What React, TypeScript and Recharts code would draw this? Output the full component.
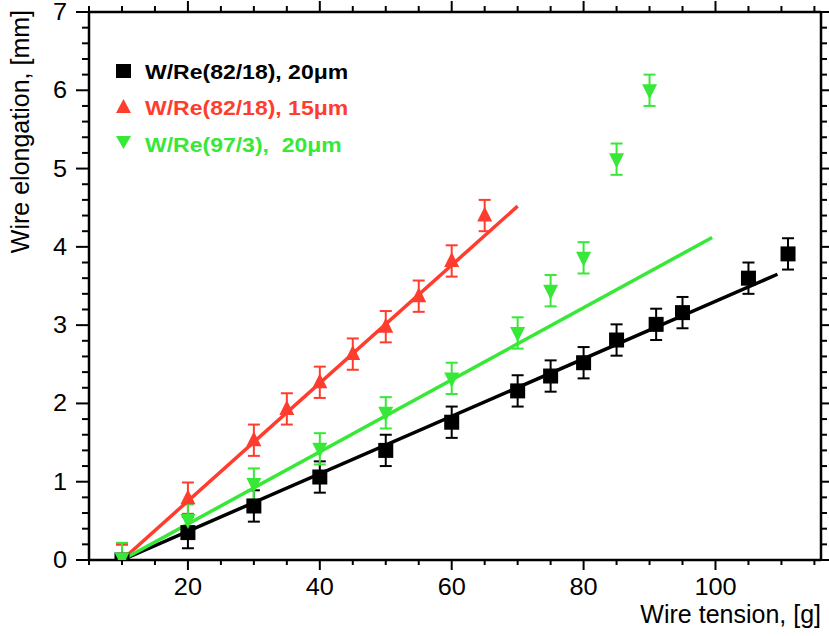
import React from 'react';
import { ComposedChart, Scatter, XAxis, YAxis, ErrorBar } from 'recharts';

const FONT = '"Liberation Sans", Arial, Helvetica, sans-serif';
const BLACK = '#000000';
const RED = '#ff3d2e';
const GREEN = '#38e838';

// Measured data: wire tension [g] vs wire elongation [mm]
const tensionBlack = [10, 20, 30, 40, 50, 60, 70, 75, 80, 85, 91, 95, 105, 111];
const elongBlack = [0, 0.35, 0.69, 1.06, 1.4, 1.76, 2.16, 2.35, 2.52, 2.81, 3.01, 3.16, 3.6, 3.91];
const tensionRed = [10, 20, 30, 35, 40, 45, 50, 55, 60, 65];
const elongRed = [0, 0.79, 1.53, 1.93, 2.27, 2.63, 2.98, 3.37, 3.82, 4.4];
const tensionGreen = [10, 20, 30, 40, 50, 60, 70, 75, 80, 85, 90];
const elongGreen = [0.02, 0.51, 0.97, 1.42, 1.88, 2.32, 2.9, 3.44, 3.86, 5.12, 6.0];
const errorMm = 0.2;

// Linear fits (endpoints)
const fitBlackX = [10, 109.4];
const fitBlackY = [0, 3.65];
const fitRedX = [10, 70];
const fitRedY = [0, 4.52];
const fitGreenX = [10, 99.5];
const fitGreenY = [0, 4.12];

// Axis ticks
const xTicks = [5, 10, 15, 20, 25, 30, 35, 40, 45, 50, 55, 60, 65, 70, 75, 80, 85, 90, 95, 100, 105, 110, 115];
const xMajor = [20, 40, 60, 80, 100];
const yTicks = [0, 0.2, 0.4, 0.6, 0.8, 1, 1.2, 1.4, 1.6, 1.8, 2, 2.2, 2.4, 2.6, 2.8, 3, 3.2, 3.4, 3.6, 3.8, 4, 4.2, 4.4, 4.6, 4.8, 5, 5.2, 5.4, 5.6, 5.8, 6, 6.2, 6.4, 6.6, 6.8, 7];
const yMajor = [0, 1, 2, 3, 4, 5, 6, 7];

const legendLabels = ['W/Re(82/18), 20\u03bcm', 'W/Re(82/18), 15\u03bcm', 'W/Re(97/3),  20\u03bcm'];

// error bars are clipped at the frame bottom (y = 0)
const pts = (xs: number[], ys: number[]) =>
  xs.map((x, i) => ({ x, y: ys[i], err: ys[i] - errorMm < 0 ? [ys[i], errorMm] : errorMm }));
const line = (xs: number[], ys: number[]) => xs.map((x, i) => ({ x, y: ys[i] }));

const blackData = pts(tensionBlack, elongBlack);
const redData = pts(tensionRed, elongRed);
const greenData = pts(tensionGreen, elongGreen);

const isMajorX = (v: number) => xMajor.some((m) => Math.abs(m - v) < 1e-6);
const isMajorY = (v: number) => yMajor.some((m) => Math.abs(m - v) < 1e-6);

const BottomTick = (p: any) => {
  const v = p.payload.value;
  const major = isMajorX(v);
  return (
    <g>
      <line x1={p.x} x2={p.x} y1={p.y} y2={p.y + (major ? 10 : 5)} stroke={BLACK} strokeWidth={2} />
      {major && (
        <text
          x={0}
          y={0}
          transform={`translate(${p.x},${p.y + 35}) scale(1.1,1)`}
          textAnchor="middle"
          fontSize={23}
          fontFamily={FONT}
          fill={BLACK}
        >
          {v}
        </text>
      )}
    </g>
  );
};

const TopTick = (p: any) => {
  const v = p.payload.value;
  const major = isMajorX(v);
  return <line x1={p.x} x2={p.x} y1={p.y} y2={p.y - (major ? 11 : 6)} stroke={BLACK} strokeWidth={2} />;
};

const LeftTick = (p: any) => {
  const v = p.payload.value;
  const major = isMajorY(v);
  return (
    <g>
      <line x1={p.x} x2={p.x - (major ? 13 : 7)} y1={p.y} y2={p.y} stroke={BLACK} strokeWidth={2} />
      {major && (
        <text
          x={0}
          y={0}
          transform={`translate(${p.x - 22},${p.y + 8}) scale(1.1,1)`}
          textAnchor="end"
          fontSize={23}
          fontFamily={FONT}
          fill={BLACK}
        >
          {Math.round(v)}
        </text>
      )}
    </g>
  );
};

const RightTick = (p: any) => {
  const v = p.payload.value;
  const major = isMajorY(v);
  return <line x1={p.x} x2={p.x + (major ? 10 : 6)} y1={p.y} y2={p.y} stroke={BLACK} strokeWidth={2} />;
};

const Square = (p: any) => <rect x={p.cx - 7.5} y={p.cy - 7.5} width={15} height={15} fill={BLACK} />;
const TriUp = (p: any) => (
  <polygon points={`${p.cx},${p.cy - 9} ${p.cx - 7.5},${p.cy + 6} ${p.cx + 7.5},${p.cy + 6}`} fill={RED} />
);
const TriDown = (p: any) => (
  <polygon points={`${p.cx},${p.cy + 9} ${p.cx - 7.5},${p.cy - 6} ${p.cx + 7.5},${p.cy - 6}`} fill={GREEN} />
);
const NoShape = () => <g />;

const LegendText = ({ x, y, color, label }: { x: number; y: number; color: string; label: string }) => (
  <text
    x={0}
    y={0}
    transform={`translate(${x},${y}) scale(1.15,1)`}
    fontSize={20}
    fontWeight="bold"
    fontFamily={FONT}
    fill={color}
    style={{ whiteSpace: 'pre' }}
  >
    {label}
  </text>
);

export default function App() {
  const W = 829;
  const H = 636;
  return (
    <div style={{ position: 'absolute', left: 0, top: 0, width: W, height: H, background: '#fff' }}>
      <ComposedChart width={W} height={H} margin={{ top: 0, right: 0, bottom: 0, left: 0 }}>
        <XAxis
          xAxisId="bottom"
          orientation="bottom"
          type="number"
          dataKey="x"
          domain={[5, 116]}
          allowDataOverflow
          ticks={xTicks}
          interval={0}
          height={76}
          tickSize={0}
          tickMargin={0}
          tickLine={false}
          tick={<BottomTick />}
          axisLine={{ stroke: BLACK, strokeWidth: 2.5 }}
        />
        <XAxis
          xAxisId="top"
          orientation="top"
          type="number"
          dataKey="x"
          domain={[5, 116]}
          allowDataOverflow
          ticks={xTicks}
          interval={0}
          height={12}
          tickSize={0}
          tickMargin={0}
          tickLine={false}
          tick={<TopTick />}
          axisLine={{ stroke: BLACK, strokeWidth: 2.5 }}
        />
        <YAxis
          yAxisId="left"
          orientation="left"
          type="number"
          dataKey="y"
          domain={[0, 7]}
          allowDataOverflow
          ticks={yTicks}
          interval={0}
          width={89}
          tickSize={0}
          tickMargin={0}
          tickLine={false}
          tick={<LeftTick />}
          axisLine={{ stroke: BLACK, strokeWidth: 2.5 }}
        />
        <YAxis
          yAxisId="right"
          orientation="right"
          type="number"
          dataKey="y"
          domain={[0, 7]}
          allowDataOverflow
          ticks={yTicks}
          interval={0}
          width={8}
          tickSize={0}
          tickMargin={0}
          tickLine={false}
          tick={<RightTick />}
          axisLine={{ stroke: BLACK, strokeWidth: 2.5 }}
        />

        <Scatter xAxisId="bottom" yAxisId="left" data={line(fitBlackX, fitBlackY)} line={{ stroke: BLACK, strokeWidth: 3.5 }} shape={<NoShape />} isAnimationActive={false} legendType="none" />
        <Scatter xAxisId="bottom" yAxisId="left" data={line(fitRedX, fitRedY)} line={{ stroke: RED, strokeWidth: 3.5 }} shape={<NoShape />} isAnimationActive={false} legendType="none" />
        <Scatter xAxisId="bottom" yAxisId="left" data={line(fitGreenX, fitGreenY)} line={{ stroke: GREEN, strokeWidth: 3.5 }} shape={<NoShape />} isAnimationActive={false} legendType="none" />

        <Scatter xAxisId="bottom" yAxisId="left" data={blackData} shape={<Square />} isAnimationActive={false}>
          <ErrorBar dataKey="err" direction="y" width={6} stroke={BLACK} strokeWidth={2} isAnimationActive={false} />
        </Scatter>
        <Scatter xAxisId="bottom" yAxisId="left" data={redData} shape={<TriUp />} isAnimationActive={false}>
          <ErrorBar dataKey="err" direction="y" width={6} stroke={RED} strokeWidth={2} isAnimationActive={false} />
        </Scatter>
        <Scatter xAxisId="bottom" yAxisId="left" data={greenData} shape={<TriDown />} isAnimationActive={false}>
          <ErrorBar dataKey="err" direction="y" width={6} stroke={GREEN} strokeWidth={2} isAnimationActive={false} />
        </Scatter>
      </ComposedChart>

      <svg width={W} height={H} style={{ position: 'absolute', left: 0, top: 0, pointerEvents: 'none' }}>
        {/* Legend */}
        <rect x={116} y={64} width={15} height={14} fill={BLACK} />
        <LegendText x={145} y={79} color={BLACK} label={legendLabels[0]} />
        <polygon points="123.5,99 116,113 131,113" fill={RED} />
        <LegendText x={145} y={115} color={RED} label={legendLabels[1]} />
        <polygon points="123.5,149 116,136 131,136" fill={GREEN} />
        <LegendText x={145} y={152} color={GREEN} label={legendLabels[2]} />

        {/* Axis titles */}
        <text x={821} y={623} textAnchor="end" fontSize={25} fontFamily={FONT} fill={BLACK}>
          Wire tension, [g]
        </text>
        <text x={29} y={10} textAnchor="end" fontSize={25} fontFamily={FONT} fill={BLACK} transform="rotate(-90, 29, 10)">
          Wire elongation, [mm]
        </text>
      </svg>
    </div>
  );
}
